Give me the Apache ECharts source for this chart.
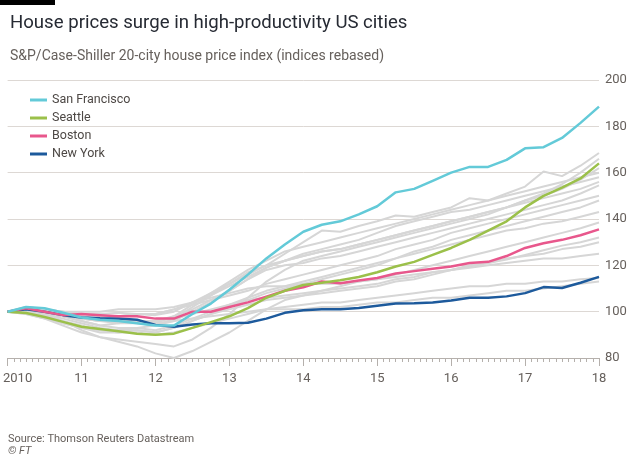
<!DOCTYPE html>
<html>
<head>
<meta charset="utf-8">
<script src="https://cdn.jsdelivr.net/npm/echarts@6/dist/echarts.min.js"></script>
<style>
html,body{margin:0;padding:0;background:#fff;}
#chart{width:640px;height:457px;}
</style>
</head>
<body>
<div id="chart"></div>
<script>
// Quarterly time points (decimal years)
var quarters = [2010,2010.25,2010.5,2010.75,2011,2011.25,2011.5,2011.75,2012,2012.25,2012.5,2012.75,
  2013,2013.25,2013.5,2013.75,2014,2014.25,2014.5,2014.75,2015,2015.25,2015.5,2015.75,
  2016,2016.25,2016.5,2016.75,2017,2017.25,2017.5,2017.75,2018];
var yearTicks = [2010,2011,2012,2013,2014,2015,2016,2017,2018];
var yTicks = [80,100,120,140,160,180,200];

// Highlighted cities
var sanFrancisco = [100,102,101.5,99.5,97.5,96.5,96,95,94,94,99,103.5,109.5,116,123,129,134.5,137.5,139,142,145.5,151.5,153,156.5,160,162.5,162.5,165.5,170.5,171,175,181.5,188.5];
var seattle = [100,99.4,97.7,95.6,93.5,92.5,91.5,90.5,90,90.5,93,95.5,98,101.5,106,109,111.5,112.5,113.6,115,117,119.5,121.5,124.5,127.5,131,135,139,145,150,153.5,157.5,164];
var boston = [100,101.5,100,98.5,99,98.5,98,98,97,97,100,100,102,104,106.5,109,110.5,113,112.3,113.5,114.5,116.5,117.5,118.5,119.5,121,121.5,124,127.5,129.5,131,133,135.5];
var newYork = [100,101,100,98.5,97.5,97.2,97,96.5,94.3,93.5,94.5,95,95,95.2,97,99.5,100.6,101,101,101.6,102.6,103.5,103.6,104,104.8,106,106,106.6,108,110.6,110.2,112.5,115];

// Other Case-Shiller cities (grey)
var grey1 = [100,101,101,100,99,99,99.5,99,98.5,100,104,108,112,116,120,125,130,135,134.5,137,139,141.5,141,143,145,149,148,151,154,160.5,158.5,163,168.5];
var grey2 = [100,99,97,94,91,89,88,87,86,85,88,93,99,106,113,118,122,124,126,128,130,132,134,136,138,140,142,145,148,151,155,160,166];
var grey3 = [100,99,97,95,93,92,92,93,94,97,102,107,112,117,120,122,124,126,127,129,131,133,135,137,139,141,143,145,148,150,153,157,162];
var grey4 = [100,101,100,98,96,94,95,96,95,98,103,108,113,118,122,126,128,130,132,134,136,138,140,142,144,146,148,150,152,154,156,158,160];
var grey5 = [100,101,101,100,99,98,98,99,99,101,104,107,111,115,119,122,125,127,129,131,134,137,139,141,143,144,146,148,150,152,154,156,158];
var grey6 = [100,102,101,99,97,96,95,95,94,96,100,104,109,114,119,122,124,126,127,129,131,133,135,137,139,141,143,145,147,149,151,153,156];
var grey7 = [100,102,101,99,98,97,97,96,96,98,101,105,109,114,118,120,121,123,124,126,128,130,132,134,136,138,140,142,144,146,148,151,154.5];
var grey8 = [100,101,100,99,98,97,98,99,99,101,103,105,107,109,112,114,116,118,120,122,124,127,129,131,134,136,138,140,142,144,146,148,150];
var grey9 = [100,101,100,98,96,94,93,93,92,94,97,100,103,106,109,111,113,115,117,119,121,123,126,128,131,133,135,137,139,141,143,145,148];
var grey10 = [100,100,99,97,95,93,92,92,91,93,96,99,102,105,108,110,112,114,116,118,120,123,125,127,129,131,133,135,136,138,139,141,143];
var grey11 = [100,101,98,95,93,91,91,92,91,93,96,99,101,103,105,106,107,108,109,110,111,113,114,116,118,119.5,121,122.5,124.5,126.5,128.5,130,132];
var grey12 = [100,100,99,98,97,96,96,96,96,97,99,101,103,105,106,107,108,109,110,111,112,114,115,117,118,120,121,123,124,125,127,128,130];
var grey13 = [100,101,101,100,100,100,101,101,101,102,104,106,108,110,111,111,112,112,112,113,114,115,116,117,118,119,120,121,122,123,123,124,125];
var grey14 = [100,101,99,96,92,89,87,85,82,80,83,87,91,96,101,105,107,109,111,113,114,116,118,120,122,124,126,128,130,132,134,136,138.5];
var grey15 = [100,100,99,98,97,96,96,96,95,96,97,98,99,100,101,101,101,102,102,103,104,104,105,106,106,107,108,109,109,110,111,112,113];
var grey16 = [100,100,98,96,94,92,91,91,90,91,93,95,97,99,101,102,103,104,104,105,106,107,108,109,110,111,111,112,112,113,113,114,114.5];

var greys = [grey1,grey2,grey3,grey4,grey5,grey6,grey7,grey8,grey9,grey10,grey11,grey12,grey13,grey14,grey15,grey16];
var highlighted = [
  {name:'New York', data:newYork, color:'#1d5a9c'},
  {name:'Boston', data:boston, color:'#e8578c'},
  {name:'Seattle', data:seattle, color:'#9bc04a'},
  {name:'San Francisco', data:sanFrancisco, color:'#63cad8'}
];

function pairs(vals){ return vals.map(function(v,i){ return [quarters[i], v]; }); }

var series = [];
greys.forEach(function(g, i){
  series.push({type:'line', name:'other'+i, data:pairs(g), showSymbol:false, silent:true,
    lineStyle:{color:'#d6d6d6', width:2}, z:1});
});
highlighted.forEach(function(h){
  series.push({type:'line', name:h.name, data:pairs(h.data), showSymbol:false,
    itemStyle:{color:h.color}, lineStyle:{color:h.color, width:2.5}, z:3});
});

var FONT = 'Roboto';
var chart = echarts.init(document.getElementById('chart'), null, {renderer:'canvas'});
chart.setOption({
  animation:false,
  backgroundColor:'#ffffff',
  textStyle:{fontFamily:FONT},
  title:[
    {text:'House prices surge in high-productivity US cities', left:5, top:9,
      textStyle:{fontFamily:FONT, fontSize:18.6, fontWeight:'normal', color:'#262a33'}},
    {text:'S&P/Case-Shiller 20-city house price index (indices rebased)', left:5, top:44,
      textStyle:{fontFamily:FONT, fontSize:14, fontWeight:'normal', color:'#66605c'}},
    {text:'Source: Thomson Reuters Datastream', left:3, top:429,
      textStyle:{fontFamily:FONT, fontSize:11, fontWeight:'normal', color:'#66605c'}},
    {text:'© FT', left:3, top:441,
      textStyle:{fontFamily:FONT, fontSize:11, fontWeight:'normal', fontStyle:'italic', color:'#66605c'}}
  ],
  graphic:[{type:'rect', left:0, top:0, shape:{width:55, height:5}, style:{fill:'#000000'}}],
  legend:{
    data:['San Francisco','Seattle','Boston','New York'],
    orient:'vertical', left:25, top:88, icon:'rect', itemWidth:17, itemHeight:3,
    itemGap:4, textStyle:{fontFamily:FONT, fontSize:12.5, color:'#4d4845', lineHeight:14},
    selectedMode:false
  },
  grid:{left:7, right:41, top:80, bottom:99, containLabel:false},
  xAxis:{
    type:'value', min:yearTicks[0], max:yearTicks[yearTicks.length-1], interval:1,
    axisLine:{show:true, lineStyle:{color:'#b5b0ac', width:1}},
    axisTick:{show:true, length:8, lineStyle:{color:'#b5b0ac'}},
    minorTick:{show:true, splitNumber:12, length:4, lineStyle:{color:'#b5b0ac'}},
    splitLine:{show:false},
    axisLabel:{margin:14, fontSize:13, color:'#66605c', fontFamily:FONT,
      formatter:function(v){ return v===2010 ? '{first|2010}' : String(v).slice(2); },
      rich:{first:{padding:[0,0,0,20], fontSize:13, color:'#66605c', fontFamily:FONT}}
    }
  },
  yAxis:{
    type:'value', position:'right', min:yTicks[0], max:yTicks[yTicks.length-1], interval:20,
    axisLine:{show:false}, axisTick:{show:false},
    splitLine:{show:true, lineStyle:{color:'#ddd8d4', width:1}},
    axisLabel:{margin:6, fontSize:13, color:'#66605c', fontFamily:FONT}
  },
  series:series
});
</script>
</body>
</html>
